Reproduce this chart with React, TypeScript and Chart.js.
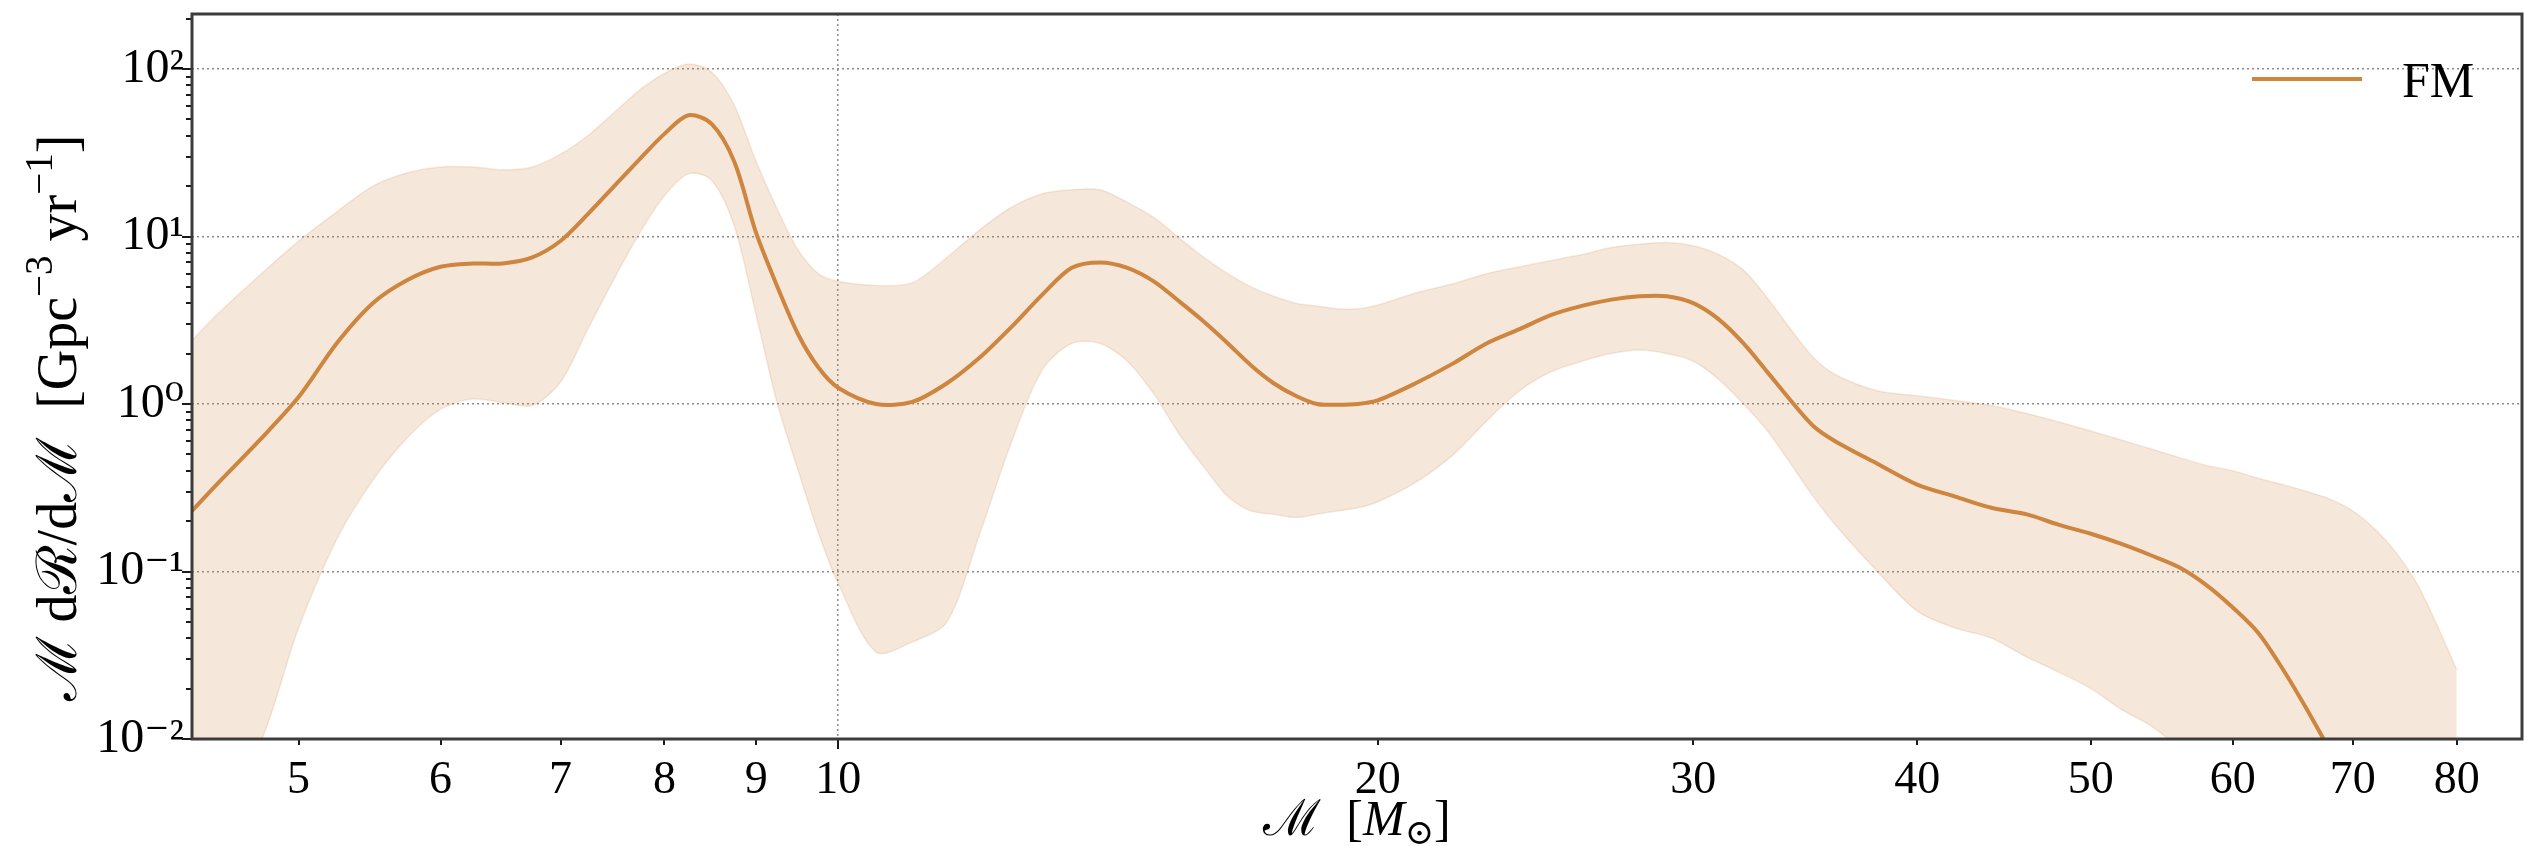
import React, { useEffect, useRef } from "react";
import { Chart, registerables } from "chart.js";

Chart.register(...registerables);

// ---------------- data ----------------
const masses = [
  4.36, 4.5, 4.75, 5, 5.25, 5.5, 5.75, 6, 6.25, 6.5, 6.75, 7, 7.25, 7.5, 7.75, 8, 8.25, 8.5, 8.75, 9, 9.25, 9.5, 9.75, 10,
  10.5, 11, 11.5, 12, 12.5, 13, 13.5, 14, 14.5, 15, 15.5, 16, 16.5, 17, 17.5, 18, 18.5, 19, 19.5, 20,
  21, 22, 23, 24, 25, 26, 27, 28, 29, 30, 31, 32, 33, 34, 35, 36,
  38, 40, 42, 44, 46, 48, 50, 52, 54, 56, 58, 60, 62, 64, 66, 68, 70, 72, 74, 76, 78, 80,
];

const medianRate = [
  0.23, 0.33, 0.6, 1.1, 2.3, 4.0, 5.5, 6.6, 6.9, 6.9, 7.5, 9.4, 13.6, 20, 29, 41, 53, 47, 28, 10.5, 5.0, 2.6, 1.65, 1.25,
  1.0, 1.03, 1.33, 1.9, 2.9, 4.5, 6.5, 7.0, 6.5, 5.4, 4.1, 3.1, 2.3, 1.7, 1.33, 1.12, 1.0, 0.99, 1.0, 1.05,
  1.33, 1.73, 2.3, 2.8, 3.4, 3.85, 4.2, 4.4, 4.4, 4.0, 3.2, 2.3, 1.55, 1.05, 0.74, 0.6,
  0.44, 0.33, 0.28, 0.24, 0.22, 0.19, 0.168, 0.146, 0.125, 0.106, 0.083, 0.061, 0.043, 0.026, 0.015, 0.0085, 0.005,
  null, null, null, null, null,
];

const upperRate = [
  2.4, 3.4, 5.8, 9.4, 14, 20, 24, 26, 26, 25, 26, 31, 40, 55, 75, 94, 107, 96, 61, 28, 14.5, 8.3, 6.0, 5.4,
  5.1, 5.3, 7.5, 11, 15, 18, 19, 19, 16, 13, 9.8, 7.5, 6.0, 5.0, 4.4, 4.0, 3.85, 3.7, 3.7, 3.9,
  4.6, 5.2, 6.0, 6.6, 7.2, 7.8, 8.6, 9.0, 9.2, 8.8, 7.8, 6.3, 4.3, 2.8, 1.9, 1.5,
  1.2, 1.12, 1.05, 0.98, 0.88, 0.78, 0.69, 0.61, 0.54, 0.48, 0.43, 0.4, 0.36, 0.33, 0.3, 0.27, 0.23, 0.18, 0.13, 0.085, 0.048, 0.026,
];

const lowerRate = [
  0.002, 0.004, 0.009, 0.046, 0.155, 0.35, 0.63, 0.93, 1.07, 1.02, 0.98, 1.35, 2.8, 5.6, 10.5, 17.5, 23.7, 21.7, 11.6, 3.4, 1.0, 0.4, 0.17, 0.085,
  0.033, 0.038, 0.05, 0.17, 0.6, 1.6, 2.3, 2.3, 1.8, 1.15, 0.66, 0.42, 0.28, 0.23, 0.22, 0.21, 0.22, 0.23, 0.24, 0.26,
  0.34, 0.49, 0.79, 1.2, 1.56, 1.8, 2.0, 2.1, 2.0, 1.8, 1.4, 1.0, 0.69, 0.44, 0.28, 0.19,
  0.1, 0.058, 0.046, 0.04, 0.031, 0.025, 0.02, 0.015, 0.012, 0.0088, 0.006, 0.004, 0.003, 0.002, 0.0015, 0.001, 0.001, 0.001, 0.001, 0.001, 0.001, 0.001,
];

const xTickValues = [5, 6, 7, 8, 9, 10, 20, 30, 40, 50, 60, 70, 80];
const xTickLabels = ["5", "6", "7", "8", "9", "10", "20", "30", "40", "50", "60", "70", "80"];
const xMajorValues = [10];

const yMajorValues = [0.01, 0.1, 1, 10, 100];
const yTickLabels = ["10⁻²", "10⁻¹", "10⁰", "10¹", "10²"];
const yMinorValues = [
  0.02, 0.03, 0.04, 0.05, 0.06, 0.07, 0.08, 0.09,
  0.2, 0.3, 0.4, 0.5, 0.6, 0.7, 0.8, 0.9,
  2, 3, 4, 5, 6, 7, 8, 9,
  20, 30, 40, 50, 60, 70, 80, 90,
  200,
];

const seriesLabel = "FM";
const xTitleParts = [
  { text: "ℳ", style: "normal" },
  { text: "  [", style: "normal" },
  { text: "M", style: "italic" },
  { text: "⊙", style: "sub" },
  { text: "]", style: "normal" },
];
const yTitleParts = [
  { text: "ℳ", style: "normal" },
  { text: " dℛ/dℳ  ", style: "normal" },
  { text: "[Gpc", style: "normal" },
  { text: "−3", style: "sup" },
  { text: " yr", style: "normal" },
  { text: "−1", style: "sup" },
  { text: "]", style: "normal" },
];

const X_MIN = 4.36;
const X_MAX = 87;
const Y_MIN = 0.01;
const Y_MAX = 213;

// ---------------- style ----------------
const SERIF = '"Liberation Serif", "DejaVu Serif", serif';
const LINE_COLOR = "#cd853f";
const BAND_COLOR = "rgba(205,133,63,0.2)";
const BAND_EDGE = "rgba(205,133,63,0.16)";
const GRID_COLOR = "#8c8c8c";
const FRAME_COLOR = "#3c3c3c";

type Part = { text: string; style: string };

function drawParts(ctx: CanvasRenderingContext2D, parts: Part[], cx: number, baseline: number, size: number) {
  const fontFor = (p: Part) => {
    if (p.style === "italic") return `italic ${size}px ${SERIF}`;
    if (p.style === "sup" || p.style === "sub") return `${Math.round(size * 0.7)}px ${SERIF}`;
    return `${size}px ${SERIF}`;
  };
  const offFor = (p: Part) => (p.style === "sup" ? -size * 0.42 : p.style === "sub" ? size * 0.18 : 0);
  let total = 0;
  const widths = parts.map((p) => {
    ctx.font = fontFor(p);
    const w = ctx.measureText(p.text).width;
    total += w;
    return w;
  });
  let x = cx - total / 2;
  ctx.textAlign = "left";
  ctx.textBaseline = "alphabetic";
  parts.forEach((p, i) => {
    ctx.font = fontFor(p);
    ctx.fillText(p.text, x, baseline + offFor(p));
    x += widths[i];
  });
}

const overlayPlugin = {
  id: "overlay",
  afterDraw(chart: any) {
    const { ctx, chartArea: a, scales } = chart;
    const xs = scales.x;
    const ys = scales.y;
    ctx.save();
    // tick marks
    ctx.strokeStyle = "#1a1a1a";
    ctx.lineWidth = 2;
    ctx.beginPath();
    xTickValues.forEach((v) => {
      const px = Math.round(xs.getPixelForValue(v));
      const len = xMajorValues.includes(v) ? 10 : 6;
      ctx.moveTo(px, a.bottom);
      ctx.lineTo(px, a.bottom + len);
    });
    yMajorValues.forEach((v) => {
      const py = Math.round(ys.getPixelForValue(v));
      ctx.moveTo(a.left, py);
      ctx.lineTo(a.left - 10, py);
    });
    yMinorValues.forEach((v) => {
      const py = Math.round(ys.getPixelForValue(v));
      ctx.moveTo(a.left, py);
      ctx.lineTo(a.left - 6, py);
    });
    ctx.stroke();
    // frame
    ctx.strokeStyle = FRAME_COLOR;
    ctx.lineWidth = 3;
    ctx.strokeRect(a.left, a.top, a.right - a.left, a.bottom - a.top);
    // legend
    ctx.strokeStyle = LINE_COLOR;
    ctx.lineWidth = 4;
    ctx.beginPath();
    ctx.moveTo(a.right - 270, a.top + 65);
    ctx.lineTo(a.right - 160, a.top + 65);
    ctx.stroke();
    ctx.fillStyle = "#000";
    ctx.font = `50px ${SERIF}`;
    ctx.textAlign = "left";
    ctx.textBaseline = "alphabetic";
    ctx.fillText(seriesLabel, a.right - 120, a.top + 83);
    // axis titles
    drawParts(ctx, xTitleParts, (a.left + a.right) / 2, 835, 50);
    ctx.translate(76, 418);
    ctx.rotate(-Math.PI / 2);
    drawParts(ctx, yTitleParts, 0, 0, 56);
    ctx.restore();
  },
};

export default function App() {
  const ref = useRef<HTMLCanvasElement>(null);
  useEffect(() => {
    document.body.style.margin = "0";
    document.body.style.overflow = "hidden";
    const pts = (arr: (number | null)[]) => masses.map((m, i) => ({ x: m, y: arr[i] }));
    const chart = new Chart(ref.current as HTMLCanvasElement, {
      type: "line",
      data: {
        datasets: [
          {
            label: "upper",
            data: pts(upperRate) as any,
            borderColor: BAND_EDGE,
            borderWidth: 1.5,
            backgroundColor: BAND_COLOR,
            fill: "+1",
            pointRadius: 0,
            tension: 0.3,
            order: 2,
          },
          {
            label: "lower",
            data: pts(lowerRate) as any,
            borderColor: BAND_EDGE,
            borderWidth: 1.5,
            backgroundColor: BAND_COLOR,
            fill: false,
            pointRadius: 0,
            tension: 0.3,
            order: 1,
          },
          {
            label: seriesLabel,
            data: pts(medianRate) as any,
            borderColor: LINE_COLOR,
            borderWidth: 4,
            fill: false,
            pointRadius: 0,
            tension: 0.3,
            order: 0,
          },
        ],
      },
      options: {
        animation: false,
        responsive: false,
        devicePixelRatio: 1,
        layout: { padding: { top: 14, right: 2, left: 0, bottom: 0 } },
        plugins: { legend: { display: false }, tooltip: { enabled: false } },
        scales: {
          x: {
            type: "logarithmic",
            min: X_MIN,
            max: X_MAX,
            afterBuildTicks: (s: any) => {
              s.ticks = xTickValues.map((v) => ({ value: v, major: false }));
            },
            afterFit: (s: any) => {
              s.height = 107;
              s.paddingLeft = 0;
              s.paddingRight = 0;
            },
            ticks: {
              autoSkip: false,
              maxRotation: 0,
              minRotation: 0,
              padding: 14,
              color: "#000",
              font: { family: SERIF, size: 46 },
              callback: (v: any) => {
                const i = xTickValues.indexOf(Number(v));
                return i >= 0 ? xTickLabels[i] : "";
              },
            },
            grid: {
              drawTicks: false,
              lineWidth: 1.5,
              color: (c: any) => (c.tick && xMajorValues.includes(c.tick.value) ? GRID_COLOR : "rgba(0,0,0,0)"),
            },
            border: { display: false, dash: [2, 3] },
          },
          y: {
            type: "logarithmic",
            min: Y_MIN,
            max: Y_MAX,
            afterBuildTicks: (s: any) => {
              const all = [...yMajorValues, ...yMinorValues].sort((p, q) => p - q);
              s.ticks = all.map((v) => ({ value: v, major: false }));
            },
            afterFit: (s: any) => {
              s.width = 192;
              s.paddingTop = 0;
              s.paddingBottom = 0;
            },
            ticks: {
              autoSkip: false,
              padding: 8,
              color: "#000",
              font: { family: SERIF, size: 48 },
              callback: (v: any) => {
                const i = yMajorValues.indexOf(Number(v));
                return i >= 0 ? yTickLabels[i] : "";
              },
            },
            grid: {
              drawTicks: false,
              lineWidth: 1.5,
              color: (c: any) => (c.tick && yMajorValues.includes(c.tick.value) ? GRID_COLOR : "rgba(0,0,0,0)"),
            },
            border: { display: false, dash: [2, 3] },
          },
        },
      },
      plugins: [overlayPlugin],
    });
    return () => chart.destroy();
  }, []);
  return (
    <div style={{ width: 2524, height: 846, background: "#fff" }}>
      <canvas ref={ref} width={2524} height={846} style={{ display: "block", width: 2524, height: 846 }} />
    </div>
  );
}
